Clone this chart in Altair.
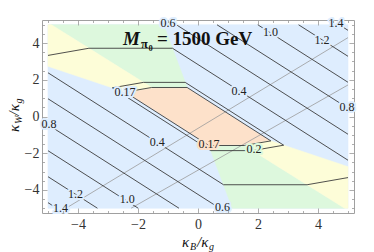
import altair as alt
import pandas as pd

# ---------------- data ----------------
major_ticks = [-4, -2, 0, 2, 4]
minor_ticks = [-5, -4.5, -3.5, -3, -2.5, -1.5, -1, -0.5, 0.5, 1, 1.5, 2.5, 3, 3.5, 4.5, 5]

# coloured regions (kappa_B/kappa_g, kappa_W/kappa_g)
blue_x = [-5, 5, 5, -5]
blue_y = [-5, -5, 5, 5]
green_top_x = [-0.351, -1.144, -4.888, -1.500]
green_top_y = [1.535, 5.0, 5.0, 1.535]
yellow_top_x = [-1.500, -4.888, -5.0, -5.0, -2.356]
yellow_top_y = [1.535, 5.0, 5.0, 2.738, 1.290]
green_bot_x = [0.351, 1.144, 4.888, 1.500]
green_bot_y = [-1.535, -5.0, -5.0, -1.535]
yellow_bot_x = [1.500, 4.888, 5.0, 5.0, 2.356]
yellow_bot_y = [-1.535, -5.0, -5.0, -2.738, -1.290]
orange_x = [-0.351, -1.500, -2.356, 0.351, 1.500, 2.356]
orange_y = [1.535, 1.535, 1.290, -1.535, -1.535, -1.290]

# contour lines
c017_x = [-0.362, -1.545, -2.428, 0.362, 1.545, 2.428, -0.362]
c017_y = [1.581, 1.581, 1.329, -1.581, -1.581, -1.329, 1.581]
c02_x = [-0.426, -1.818, -2.856, 0.426, 1.818, 2.856, -0.426]
c02_y = [1.860, 1.860, 1.564, -1.860, -1.860, -1.564, 1.860]
c04u_x = [-5.0, -3.636, -0.851, 5.0]
c04u_y = [3.33, 3.72, 3.72, -2.383]
c04l_x = [5.0, 3.636, 0.851, -5.0]
c04l_y = [-3.33, -3.72, -3.72, 2.383]
c06u_x = [-0.721, 5.0]
c06u_y = [5.0, -0.967]
c06l_x = [0.721, -5.0]
c06l_y = [-5.0, 0.967]
c08u_x = [0.634, 5.0]
c08u_y = [5.0, 0.449]
c08l_x = [-0.634, -5.0]
c08l_y = [-5.0, -0.449]
c10u_x = [1.993, 5.0]
c10u_y = [5.0, 1.865]
c10l_x = [-1.993, -5.0]
c10l_y = [-5.0, -1.865]
c12u_x = [3.352, 5.0]
c12u_y = [5.0, 3.281]
c12l_x = [-3.352, -5.0]
c12l_y = [-5.0, -3.281]
c14u_x = [4.710, 5.0]
c14u_y = [5.0, 4.697]
c14l_x = [-4.710, -5.0]
c14l_y = [-5.0, -4.697]

# thin gray lines
gray1_x = [-4.4, 5.0]
gray1_y = [-5.0, 4.3]
gray2_x = [-2.23, 5.0]
gray2_y = [-5.0, 1.72]

# contour labels
label_text = ["0.17", "0.17", "0.2", "0.4", "0.4", "0.6", "0.6", "0.8", "0.8",
              "1.0", "1.0", "1.2", "1.2", "1.4", "1.4"]
label_x = [-2.43, 0.37, 1.87, 1.37, -1.36, -1.0, 0.82, 4.97, -4.97,
           2.42, -2.36, 4.13, -4.08, 4.6, -4.58]
label_y = [1.32, -1.49, -1.77, 1.41, -1.40, 5.12, -4.93, 0.52, -0.42,
           4.58, -4.5, 4.17, -4.23, 5.08, -5.0]
label_bg = ["blue", "orange", "green", "blue", "blue", "blue", "blue", "blue", "blue",
            "blue", "blue", "blue", "blue", "blue", "blue"]

# ---------------- styling ----------------
BLUE, GREEN, YELLOW, ORANGE = "#deedfe", "#ddf8dd", "#fdfdd8", "#fde1ca"
SERIF = "Liberation Serif"
XS = alt.Scale(domain=[-5.2, 5.2], nice=False, zero=False)
YS = alt.Scale(domain=[-5.26, 5.26], nice=False, zero=False)


def axis(orient, values, size, labels):
    kw = dict(orient=orient, values=values, offset=-size, tickSize=size, domain=False,
              grid=False, labels=labels, tickColor="#999999", tickWidth=0.8,
              title=None, zindex=2)
    if labels:
        kw.update(labelFont=SERIF, labelFontSize=14, labelColor="#333333",
                  labelPadding=4 if orient == "bottom" else 3)
    return alt.Axis(**kw)


def poly(xs, ys, color, xaxis=None, yaxis=None):
    df = pd.DataFrame({"x": xs + xs[:1], "y": ys + ys[:1], "i": list(range(len(xs) + 1))})
    return alt.Chart(df).mark_line(fill=color, stroke=color, strokeWidth=0.6).encode(
        x=alt.X("x:Q", scale=XS, axis=xaxis),
        y=alt.Y("y:Q", scale=YS, axis=yaxis),
        order="i:Q",
    )


one = pd.DataFrame({"a": [0]})


def txt(s, x, y, size, weight="normal", style="normal", angle=0):
    return alt.Chart(one).mark_text(
        text=s, font=SERIF, fontSize=size, fontWeight=weight, fontStyle=style,
        align="left", baseline="alphabetic", angle=angle, color="#111111",
    ).encode(x=alt.value(x), y=alt.value(y))


layers = [
    poly(blue_x, blue_y, BLUE, axis("bottom", major_ticks, 5, True), axis("left", major_ticks, 5, True)),
    poly(green_top_x, green_top_y, GREEN, axis("bottom", minor_ticks, 2.5, False), axis("left", minor_ticks, 2.5, False)),
    poly(yellow_top_x, yellow_top_y, YELLOW, axis("top", major_ticks, 5, False), axis("right", major_ticks, 5, False)),
    poly(green_bot_x, green_bot_y, GREEN, axis("top", minor_ticks, 2.5, False), axis("right", minor_ticks, 2.5, False)),
    poly(yellow_bot_x, yellow_bot_y, YELLOW),
    poly(orange_x, orange_y, ORANGE),
]

# gray lines
gray_rows = []
for gid, gx, gy in [("g1", gray1_x, gray1_y), ("g2", gray2_x, gray2_y)]:
    for i, (a, b) in enumerate(zip(gx, gy)):
        gray_rows.append({"id": gid, "i": i, "x": a, "y": b})
layers.append(
    alt.Chart(pd.DataFrame(gray_rows)).mark_line(color="#9a9a9a", strokeWidth=0.8).encode(
        x=alt.X("x:Q", scale=XS, axis=None), y=alt.Y("y:Q", scale=YS, axis=None),
        detail="id:N", order="i:Q")
)

# contour lines
contours = [
    ("c017", c017_x, c017_y), ("c02", c02_x, c02_y),
    ("c04u", c04u_x, c04u_y), ("c04l", c04l_x, c04l_y),
    ("c06u", c06u_x, c06u_y), ("c06l", c06l_x, c06l_y),
    ("c08u", c08u_x, c08u_y), ("c08l", c08l_x, c08l_y),
    ("c10u", c10u_x, c10u_y), ("c10l", c10l_x, c10l_y),
    ("c12u", c12u_x, c12u_y), ("c12l", c12l_x, c12l_y),
    ("c14u", c14u_x, c14u_y), ("c14l", c14l_x, c14l_y),
]
crow = []
for cid, cx, cy in contours:
    for i, (a, b) in enumerate(zip(cx, cy)):
        crow.append({"id": cid, "i": i, "x": a, "y": b})
layers.append(
    alt.Chart(pd.DataFrame(crow)).mark_line(color="#3c3c3c", strokeWidth=0.9).encode(
        x=alt.X("x:Q", scale=XS, axis=None), y=alt.Y("y:Q", scale=YS, axis=None),
        detail="id:N", order="i:Q")
)

# contour labels with halo
lab = pd.DataFrame({"t": label_text, "x": label_x, "y": label_y, "bg": label_bg})
bg_scale = alt.Scale(domain=["blue", "green", "yellow", "orange"], range=[BLUE, GREEN, YELLOW, ORANGE])
layers.append(
    alt.Chart(lab).mark_text(font=SERIF, fontSize=12, strokeWidth=4, strokeJoin="round").encode(
        x=alt.X("x:Q", scale=XS, axis=None), y=alt.Y("y:Q", scale=YS, axis=None), text="t:N",
        stroke=alt.Stroke("bg:N", scale=bg_scale, legend=None),
        fill=alt.Fill("bg:N", scale=bg_scale, legend=None))
)
layers.append(
    alt.Chart(lab).mark_text(font=SERIF, fontSize=12, color="#222222").encode(
        x=alt.X("x:Q", scale=XS, axis=None), y=alt.Y("y:Q", scale=YS, axis=None), text="t:N")
)

# title  M_{pi0} = 1500 GeV  (plot-area pixel positions)
layers += [
    txt("M", 81, 25, 19, "bold", "italic"),
    txt("π", 99, 28, 12.5, "bold"),
    txt("0", 106.5, 31, 8.5, "bold"),
    txt("= 1500 GeV", 115, 25, 19, "bold"),
]

# axis titles
layers += [
    txt("κ", 140, 227, 15, style="italic"),
    txt("B", 148, 230, 10, style="italic"),
    txt("/κ", 155, 227, 15, style="italic"),
    txt("g", 167, 230, 10, style="italic"),
    txt("κ", -23, 112, 15, style="italic", angle=270),
    txt("W", -20, 104, 10, style="italic", angle=270),
    txt("/κ", -23, 95.5, 15, style="italic", angle=270),
    txt("g", -20, 83.5, 10, style="italic", angle=270),
]

chart = alt.layer(*layers).resolve_axis(x="independent", y="independent").properties(
    width=312, height=193,
    padding={"left": 34, "top": 12, "right": 12, "bottom": 39},
    autosize=alt.AutoSizeParams(type="none"),
).configure_view(stroke="#a0a0a0", strokeWidth=1)

chart.save("out.html", embed_options={"renderer": "svg", "actions": False})
